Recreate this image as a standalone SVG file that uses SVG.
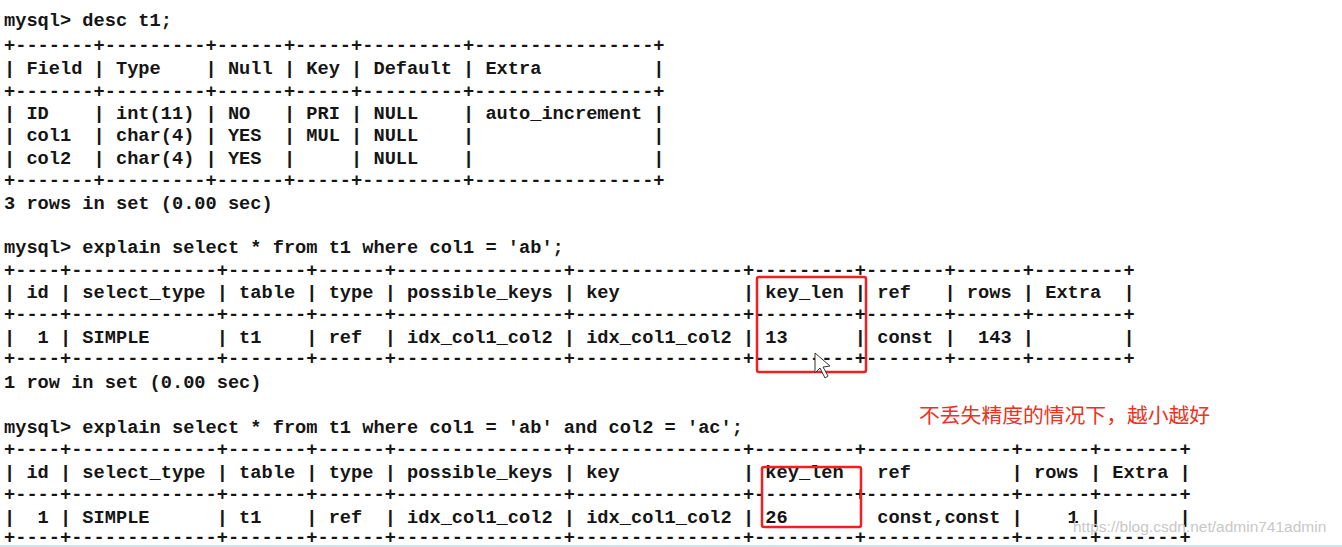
<svg xmlns="http://www.w3.org/2000/svg" width="1342" height="547" viewBox="0 0 1342 547">
<style>
.t{font-family:"Liberation Mono","DejaVu Sans Mono",monospace;font-weight:bold;font-size:18.67px;fill:#151515;white-space:pre}
.box{fill:none;stroke:#f02020;stroke-width:2.5}
.note{font-family:"Noto Sans CJK SC",sans-serif;font-size:20.8px;fill:#f03020}
.wm{font-family:"Liberation Sans",sans-serif;font-size:15.5px;fill:#c8c8c8}
</style>
<rect width="1342" height="547" fill="#ffffff"/>
<g id="console" xml:space="preserve">
<text class="t" x="4" y="26">mysql&gt; desc t1;</text>
<text class="t" x="4" y="51">+-------+---------+------+-----+---------+----------------+</text>
<text class="t" x="4" y="74">| Field | Type    | Null | Key | Default | Extra          |</text>
<text class="t" x="4" y="97">+-------+---------+------+-----+---------+----------------+</text>
<text class="t" x="4" y="119">| ID    | int(11) | NO   | PRI | NULL    | auto_increment |</text>
<text class="t" x="4" y="141">| col1  | char(4) | YES  | MUL | NULL    |                |</text>
<text class="t" x="4" y="164">| col2  | char(4) | YES  |     | NULL    |                |</text>
<text class="t" x="4" y="186">+-------+---------+------+-----+---------+----------------+</text>
<text class="t" x="4" y="209">3 rows in set (0.00 sec)</text>
<text class="t" x="4" y="253">mysql&gt; explain select * from t1 where col1 = 'ab';</text>
<text class="t" x="4" y="276">+----+-------------+-------+------+---------------+---------------+---------+-------+------+--------+</text>
<text class="t" x="4" y="298">| id | select_type | table | type | possible_keys | key           | key_len | ref   | rows | Extra  |</text>
<text class="t" x="4" y="320">+----+-------------+-------+------+---------------+---------------+---------+-------+------+--------+</text>
<text class="t" x="4" y="343">|  1 | SIMPLE      | t1    | ref  | idx_col1_col2 | idx_col1_col2 | 13      | const |  143 |        |</text>
<text class="t" x="4" y="364">+----+-------------+-------+------+---------------+---------------+---------+-------+------+--------+</text>
<text class="t" x="4" y="388">1 row in set (0.00 sec)</text>
<text class="t" x="4" y="433">mysql&gt; explain select * from t1 where col1 = 'ab' and col2 = 'ac';</text>
<text class="t" x="4" y="455">+----+-------------+-------+------+---------------+---------------+---------+-------------+------+-------+</text>
<text class="t" x="4" y="478">| id | select_type | table | type | possible_keys | key           | key_len   ref         | rows | Extra |</text>
<text class="t" x="4" y="500">+----+-------------+-------+------+---------------+---------------+---------+-------------+------+-------+</text>
<text class="t" x="4" y="523">|  1 | SIMPLE      | t1    | ref  | idx_col1_col2 | idx_col1_col2 | 26        const,const |    1 |       |</text>
<text class="t" x="4" y="543">+----+-------------+-------+------+---------------+---------------+---------+-------------+------+-------+</text>
</g>
<g id="highlight1"><rect class="box" x="757" y="277" width="109" height="95" rx="2"/></g>
<g id="highlight2"><rect class="box" x="762" y="467" width="99" height="60" rx="2"/></g>
<g id="cursor"><path d="M815,353 L815,373 L820,368 L825,378 L828,376 L823,367 L830,366 Z" fill="#fff" stroke="#333" stroke-width="1"/></g>
<g id="note"><text class="note" x="919" y="423">不丢失精度的情况下，越小越好</text></g>
<text class="wm" x="1073" y="532">https://blog.csdn.net/admin741admin</text>
<rect x="0" y="545" width="1342" height="2" fill="#cfe3ea"/>
</svg>
